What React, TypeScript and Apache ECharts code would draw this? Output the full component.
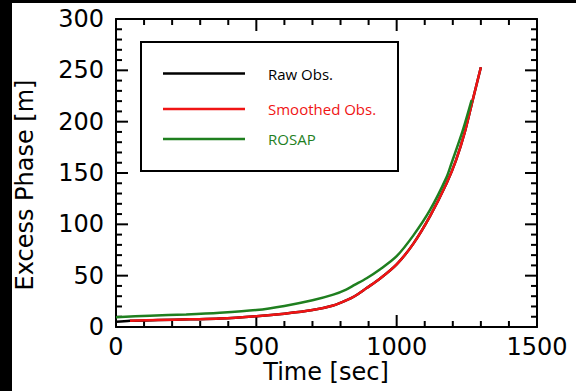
import React, { useEffect, useRef } from "react";
import * as echarts from "echarts";

// Data
const rawTimes = [0, 50, 150, 264, 370, 500, 600, 700, 774, 820, 850, 893, 940, 1000, 1059, 1119, 1178, 1211, 1243, 1270, 1300];
const rawValues = [5, 6, 6.8, 7.5, 8.2, 10.5, 13, 16.5, 21, 26, 30, 38, 47, 61, 81, 108, 140, 162, 190, 220, 253];

const smoothTimes = [50, 150, 264, 370, 500, 600, 700, 774, 820, 850, 893, 940, 1000, 1059, 1119, 1178, 1211, 1243, 1270, 1300];
const smoothValues = [6, 6.8, 7.5, 8.2, 10.5, 13, 16.5, 21, 26, 30, 38, 47, 61, 81, 108, 140, 162, 190, 220, 253];

const rosapTimes = [0, 121, 250, 370, 500, 600, 700, 774, 820, 850, 893, 940, 1000, 1059, 1119, 1178, 1196, 1235, 1267];
const rosapValues = [9.5, 11, 12.2, 13.8, 16.5, 20.5, 26, 31.5, 36.5, 41, 47.5, 56, 69, 89, 114, 146, 160, 191, 221];

const seriesNames = ["Raw Obs.", "Smoothed Obs.", "ROSAP"];
const seriesColors = ["#000000", "#f01414", "#1f7f1f"];
const xTitle = "Time [sec]";
const yTitle = "Excess Phase [m]";

// Axis ticks
const xMajorTicks = [0, 500, 1000, 1500];
const xMinorStep = 100;
const yMajorTicks = [0, 50, 100, 150, 200, 250, 300];
const yMinorStep = 10;

const pairs = (t: number[], v: number[]) => t.map((x, i) => [x, v[i]]);

const GRID = { left: 116, top: 19, right: 39, bottom: 64 };
const W = 576;
const H = 391;

export default function App() {
  const ref = useRef<HTMLDivElement>(null);
  useEffect(() => {
    if (!ref.current) return;
    const chart = echarts.init(ref.current, undefined, { renderer: "svg" });
    const font = "DejaVu Sans";
    const axisCommon = (show: boolean, margin: number) => ({
      type: "value" as const,
      axisLine: { show: true, onZero: false, lineStyle: { color: "#000", width: 2 } },
      axisTick: { show: false },
      minorTick: { show: false },
      splitLine: { show: false },
      minorSplitLine: { show: false },
      axisLabel: {
        show,
        margin,
        color: "#000",
        fontSize: 24,
        fontFamily: font,
        formatter: (v: number) => String(v),
      },
    });

    const data = [pairs(rawTimes, rawValues), pairs(smoothTimes, smoothValues), pairs(rosapTimes, rosapValues)];

    chart.setOption({
      animation: false,
      backgroundColor: "#fff",
      grid: { ...GRID, containLabel: false },
      xAxis: [
        { ...axisCommon(true, 8), position: "bottom", min: 0, max: 1500, interval: 500 },
        { ...axisCommon(false, 8), position: "top", min: 0, max: 1500, interval: 500 },
      ],
      yAxis: [
        { ...axisCommon(true, 12), position: "left", min: 0, max: 300, interval: 50 },
        { ...axisCommon(false, 12), position: "right", min: 0, max: 300, interval: 50 },
      ],
      series: seriesNames.map((name, i) => ({
        name,
        type: "line",
        data: data[i],
        smooth: 0.3,
        showSymbol: false,
        lineStyle: { color: seriesColors[i], width: 2.5 },
        itemStyle: { color: seriesColors[i] },
        z: 2 + i,
      })),
    });

    // Ticks positioned through the chart's scales (with a linear fallback on the grid box)
    const plotL = GRID.left;
    const plotR = W - GRID.right;
    const plotT = GRID.top;
    const plotB = H - GRID.bottom;
    const num = (r: any): number => {
      const n = Array.isArray(r) ? Number(r[0]) : Number(r);
      return n;
    };
    const toX = (v: number) => {
      let p = NaN;
      try {
        p = num(chart.convertToPixel({ gridIndex: 0 } as any, [v, 0]) as any);
      } catch (e) {}
      return Number.isFinite(p) ? p : plotL + (v / 1500) * (plotR - plotL);
    };
    const toY = (v: number) => {
      let p = NaN;
      try {
        const r: any = chart.convertToPixel({ gridIndex: 0 } as any, [0, v]);
        p = Array.isArray(r) ? Number(r[1]) : NaN;
      } catch (e) {}
      return Number.isFinite(p) ? p : plotB - (v / 300) * (plotB - plotT);
    };
    const left = toX(0);
    const right = toX(1500);
    const bottom = toY(0);
    const top = toY(300);
    const tickStyle = { stroke: "#000", lineWidth: 2 };
    const ticks: any[] = [];
    for (let v = 0; v <= 1500; v += xMinorStep) {
      const px = toX(v);
      const len = xMajorTicks.includes(v) ? 12 : 6;
      ticks.push({ type: "line", shape: { x1: px, y1: bottom, x2: px, y2: bottom - len }, style: tickStyle });
      ticks.push({ type: "line", shape: { x1: px, y1: top, x2: px, y2: top + len }, style: tickStyle });
    }
    for (let v = 0; v <= 300; v += yMinorStep) {
      const py = toY(v);
      const len = yMajorTicks.includes(v) ? 12 : 6;
      ticks.push({ type: "line", shape: { x1: left, y1: py, x2: left + len, y2: py }, style: tickStyle });
      ticks.push({ type: "line", shape: { x1: right, y1: py, x2: right - len, y2: py }, style: tickStyle });
    }

    const legendRows = [73.5, 109, 139];
    const graphic: any[] = [
      { type: "rect", shape: { x: 0, y: 0, width: 12, height: H }, style: { fill: "#000" }, silent: true },
      { type: "rect", shape: { x: 0, y: 0, width: W, height: 3 }, style: { fill: "#000" }, silent: true },
      {
        type: "rect",
        shape: { x: 141, y: 42, width: 257, height: 129 },
        style: { fill: "#fff", stroke: "#000", lineWidth: 2 },
      },
      {
        type: "text",
        x: 326,
        y: 372,
        style: { text: xTitle, fontSize: 24, fontFamily: font, fill: "#000", align: "center", verticalAlign: "middle" },
      },
      {
        type: "text",
        x: 25,
        y: 185,
        rotation: Math.PI / 2,
        style: { text: yTitle, fontSize: 24, fontFamily: font, fill: "#000", align: "center", verticalAlign: "middle" },
      },
      ...ticks,
    ];
    seriesNames.forEach((name, i) => {
      graphic.push({
        type: "line",
        shape: { x1: 163, y1: legendRows[i], x2: 245, y2: legendRows[i] },
        style: { stroke: seriesColors[i], lineWidth: 2.5 },
      });
      graphic.push({
        type: "text",
        x: 268,
        y: legendRows[i],
        style: { text: name, fontSize: 15, fontFamily: "Open Sans", fill: seriesColors[i], align: "left", verticalAlign: "middle" },
      });
    });

    chart.setOption({ graphic });
    return () => chart.dispose();
  }, []);
  return <div ref={ref} style={{ position: "fixed", left: 0, top: 0, width: W, height: H }} />;
}
